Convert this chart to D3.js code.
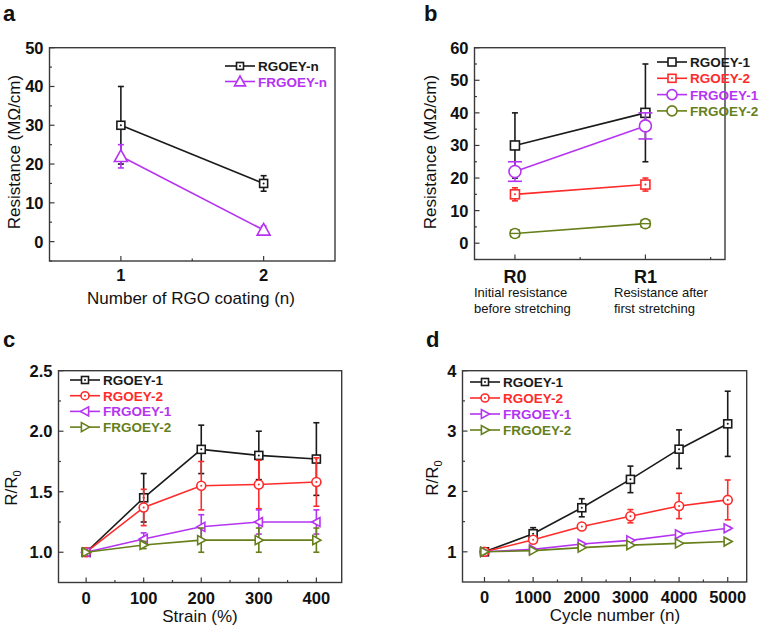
<!DOCTYPE html>
<html><head><meta charset="utf-8">
<script src="https://cdn.jsdelivr.net/npm/d3@7"></script>
<style>
body{margin:0;background:#fff;}
svg{display:block;font-family:Arial,"Liberation Sans",sans-serif;}
</style></head><body>
<svg id="chart" width="767" height="630"></svg>
<script>
// ---------- DATA ----------
// Panel a
const aX = [1, 2];
const aTicks = ["1", "2"];
const aRGOEYn = [30, 15];
const aRGOEYnErr = [10, 2];
const aFRGOEYn = [22, 3];
const aFRGOEYnErr = [3, 1];
// Panel b
const bX = [0, 1];
const bTicks = ["R0", "R1"];
const bSub0 = ["Initial resistance", "before stretching"];
const bSub1 = ["Resistance after", "first stretching"];
const bRGOEY1 = [30, 40];
const bRGOEY1Err = [10, 15];
const bRGOEY2 = [15, 18];
const bRGOEY2Err = [2, 2];
const bFRGOEY1 = [22, 36];
const bFRGOEY1Err = [3, 4];
const bFRGOEY2 = [3, 6];
const bFRGOEY2Err = [1, 1];
// Panel c
const cStrain = [0, 100, 200, 300, 400];
const cRGOEY1 = [1.0, 1.45, 1.85, 1.80, 1.77];
const cRGOEY1Err = [0, 0.20, 0.20, 0.20, 0.30];
const cRGOEY2 = [1.0, 1.37, 1.55, 1.56, 1.58];
const cRGOEY2Err = [0, 0.15, 0.20, 0.20, 0.20];
const cFRGOEY1 = [1.0, 1.11, 1.21, 1.25, 1.25];
const cFRGOEY1Err = [0, 0.05, 0.10, 0.10, 0.10];
const cFRGOEY2 = [1.0, 1.06, 1.10, 1.10, 1.10];
const cFRGOEY2Err = [0, 0.03, 0.10, 0.10, 0.10];
// Panel d
const dCycle = [0, 1000, 2000, 3000, 4000, 5000];
const dRGOEY1 = [1.0, 1.30, 1.73, 2.20, 2.70, 3.12];
const dRGOEY1Err = [0, 0.10, 0.15, 0.22, 0.32, 0.54];
const dRGOEY2 = [1.0, 1.20, 1.42, 1.59, 1.76, 1.86];
const dRGOEY2Err = [0, 0.02, 0.02, 0.11, 0.21, 0.33];
const dFRGOEY1 = [1.0, 1.04, 1.13, 1.19, 1.29, 1.39];
const dFRGOEY1Err = [0, 0.01, 0.02, 0.02, 0.02, 0.02];
const dFRGOEY2 = [1.0, 1.02, 1.07, 1.11, 1.14, 1.17];
const dFRGOEY2Err = [0, 0.01, 0.01, 0.01, 0.01, 0.01];

// ---------- STYLE ----------
const BLACK = "#1a1a1a", RED = "#ff2b2b", MAG = "#b534f2", OLIVE = "#667f1a";
const FRAME = "#3a3a3a";
const svg = d3.select("#chart");

function marker(g, shape, x, y, size, color, dot) {
  const h = size / 2;
  let el;
  if (shape === "square") {
    el = g.append("rect").attr("x", x - h).attr("y", y - h).attr("width", size).attr("height", size);
  } else if (shape === "circle") {
    el = g.append("circle").attr("cx", x).attr("cy", y).attr("r", h);
  } else if (shape === "triUp") {
    el = g.append("path").attr("d", `M${x},${y - h}L${x + h},${y + h * 0.8}L${x - h},${y + h * 0.8}Z`);
  } else if (shape === "triLeft") {
    el = g.append("path").attr("d", `M${x - h},${y}L${x + h * 0.8},${y - h}L${x + h * 0.8},${y + h}Z`);
  } else if (shape === "triRight") {
    el = g.append("path").attr("d", `M${x + h},${y}L${x - h * 0.8},${y - h}L${x - h * 0.8},${y + h}Z`);
  }
  el.attr("fill", "#fff").attr("stroke", color).attr("stroke-width", 1.6);
  if (dot) g.append("circle").attr("cx", x).attr("cy", y).attr("r", 1).attr("fill", color);
}

function panel(cfg) {
  const g = svg.append("g");
  const x = d3.scaleLinear().domain(cfg.xDomain).range([cfg.left, cfg.right]);
  const y = d3.scaleLinear().domain(cfg.yDomain).range([cfg.bottom, cfg.top]);
  // frame
  g.append("rect").attr("x", cfg.left).attr("y", cfg.top)
    .attr("width", cfg.right - cfg.left).attr("height", cfg.bottom - cfg.top)
    .attr("fill", "none").attr("stroke", FRAME).attr("stroke-width", 1.4);
  // y ticks (inward)
  cfg.yMinor.forEach(v => g.append("line").attr("x1", cfg.left).attr("x2", cfg.left + 2.5)
    .attr("y1", y(v)).attr("y2", y(v)).attr("stroke", FRAME).attr("stroke-width", 1.2));
  cfg.yTicks.forEach(v => {
    g.append("line").attr("x1", cfg.left).attr("x2", cfg.left + 5)
      .attr("y1", y(v)).attr("y2", y(v)).attr("stroke", FRAME).attr("stroke-width", 1.2);
    g.append("text").attr("x", cfg.left - 6).attr("y", y(v) + 6).attr("text-anchor", "end")
      .attr("font-size", 16.5).attr("font-weight", "bold").attr("fill", "#111").text(cfg.yFmt(v));
  });
  // x ticks
  cfg.xMinor.forEach(v => g.append("line").attr("y1", cfg.bottom).attr("y2", cfg.bottom - 2.5)
    .attr("x1", x(v)).attr("x2", x(v)).attr("stroke", FRAME).attr("stroke-width", 1.2));
  cfg.xTicks.forEach((v, i) => {
    g.append("line").attr("y1", cfg.bottom).attr("y2", cfg.bottom - 5)
      .attr("x1", x(v)).attr("x2", x(v)).attr("stroke", FRAME).attr("stroke-width", 1.2);
    g.append("text").attr("x", x(v)).attr("y", cfg.bottom + cfg.xLabelDy).attr("text-anchor", "middle")
      .attr("font-size", cfg.xLabelSize || 16.5).attr("font-weight", "bold").attr("fill", "#111")
      .text(cfg.xLabels[i]);
  });
  // axis titles
  if (cfg.xTitle) g.append("text").attr("x", cfg.xTitleX).attr("y", cfg.xTitleY)
    .attr("text-anchor", "middle").attr("font-size", 17).attr("fill", "#111").text(cfg.xTitle);
  const yt = g.append("text").attr("transform", `translate(${cfg.yTitleX},${cfg.yTitleY}) rotate(-90)`)
    .attr("text-anchor", "middle").attr("font-size", 17).attr("fill", "#111");
  if (cfg.yTitle === "R/R0") {
    yt.append("tspan").text("R/R");
    yt.append("tspan").attr("font-size", 11).attr("dy", 4).text("0");
  } else yt.text(cfg.yTitle);
  // panel letter
  g.append("text").attr("x", cfg.letterX).attr("y", cfg.letterY).attr("font-size", 22)
    .attr("font-weight", "bold").attr("fill", "#111").text(cfg.letter);
  // series
  cfg.series.forEach(s => {
    const pts = cfg.xValues.map((xv, i) => [x(xv), y(s.values[i]), s.err[i], s.values[i]]);
    g.append("path").attr("d", d3.line()(pts.map(p => [p[0], p[1]])))
      .attr("fill", "none").attr("stroke", s.color).attr("stroke-width", 1.6);
    pts.forEach(p => {
      if (p[2] > 0) {
        const y1 = y(p[3] - p[2]), y2 = y(p[3] + p[2]);
        const cw = s.cap / 2;
        g.append("line").attr("x1", p[0]).attr("x2", p[0]).attr("y1", y1).attr("y2", y2)
          .attr("stroke", s.color).attr("stroke-width", 1.6);
        [y1, y2].forEach(yy => g.append("line").attr("x1", p[0] - cw).attr("x2", p[0] + cw)
          .attr("y1", yy).attr("y2", yy).attr("stroke", s.color).attr("stroke-width", 1.6));
      }
      marker(g, s.shape, p[0], p[1], s.size, s.color, s.dot);
    });
  });
  // legend
  cfg.series.forEach((s, i) => {
    const ly = cfg.legY + i * cfg.legDy;
    g.append("line").attr("x1", cfg.legX).attr("x2", cfg.legX + 30).attr("y1", ly).attr("y2", ly)
      .attr("stroke", s.color).attr("stroke-width", 1.6);
    marker(g, s.shape, cfg.legX + 15, ly, s.legSize || s.size, s.color, s.dot);
    g.append("text").attr("x", cfg.legX + 33).attr("y", ly + 5).attr("font-size", 13.5)
      .attr("font-weight", "bold").attr("fill", s.color).text(s.name);
  });
}

// Panel a
panel({
  letter: "a", letterX: 3, letterY: 21,
  left: 49.5, right: 335, top: 47.7, bottom: 261,
  xDomain: [0.5, 2.5], yDomain: [-5, 50],
  xValues: aX, xTicks: aX, xLabels: aTicks, xMinor: [1.5], xLabelDy: 20,
  yTicks: d3.range(0, 51, 10), yMinor: [-5, 5, 15, 25, 35, 45], yFmt: d3.format("d"),
  xTitle: "Number of RGO coating (n)", xTitleX: 191, xTitleY: 304,
  yTitle: "Resistance (M\u03A9/cm)", yTitleX: 20, yTitleY: 152,
  legX: 225, legY: 66, legDy: 15.5,
  series: [
    {name: "RGOEY-n", values: aRGOEYn, err: aRGOEYnErr, color: BLACK, shape: "square", size: 8, dot: true, cap: 6, legSize: 7},
    {name: "FRGOEY-n", values: aFRGOEYn, err: aFRGOEYnErr, color: MAG, shape: "triUp", size: 13, dot: false, cap: 6, legSize: 11}
  ]
});

// Panel b
panel({
  letter: "b", letterX: 424, letterY: 21,
  left: 474.5, right: 725, top: 47.7, bottom: 259.5,
  xDomain: [-0.31, 1.61], yDomain: [-5, 60],
  xValues: bX, xTicks: bX, xLabels: bTicks, xMinor: [0.5, 1.5], xLabelDy: 23, xLabelSize: 18,
  yTicks: d3.range(0, 61, 10), yMinor: [-5, 5, 15, 25, 35, 45, 55], yFmt: d3.format("d"),
  xTitle: null,
  yTitle: "Resistance (M\u03A9/cm)", yTitleX: 436, yTitleY: 152,
  legX: 657, legY: 62, legDy: 16.3,
  series: [
    {name: "RGOEY-1", values: bRGOEY1, err: bRGOEY1Err, color: BLACK, shape: "square", size: 9, dot: false, cap: 6, legSize: 8},
    {name: "RGOEY-2", values: bRGOEY2, err: bRGOEY2Err, color: RED, shape: "square", size: 9, dot: true, cap: 6, legSize: 8},
    {name: "FRGOEY-1", values: bFRGOEY1, err: bFRGOEY1Err, color: MAG, shape: "circle", size: 12, dot: false, cap: 14, legSize: 10},
    {name: "FRGOEY-2", values: bFRGOEY2, err: bFRGOEY2Err, color: OLIVE, shape: "circle", size: 10, dot: false, cap: 10, legSize: 10}
  ]
});
// crosshair on FRGOEY-2 markers & sublabels
(function() {
  const x = d3.scaleLinear().domain([-0.31, 1.61]).range([474.5, 725]);
  const y = d3.scaleLinear().domain([-5, 60]).range([259.5, 47.7]);
  const g = svg.append("g");
  bX.forEach((xv, i) => {
    const cx = x(xv), cy = y(bFRGOEY2[i]);
    g.append("line").attr("x1", cx - 5).attr("x2", cx + 5).attr("y1", cy).attr("y2", cy).attr("stroke", OLIVE).attr("stroke-width", 1.4);
  });
  [[bSub0, 474], [bSub1, 614]].forEach(([lines, lx]) => {
    lines.forEach((t, j) => g.append("text").attr("x", lx).attr("y", 297 + j * 16)
      .attr("font-size", 13).attr("fill", "#111").text(t));
  });
})();

// Panel c
panel({
  letter: "c", letterX: 3, letterY: 347,
  left: 58.5, right: 341.7, top: 370.7, bottom: 582.5,
  xDomain: [-48, 444], yDomain: [0.75, 2.5],
  xValues: cStrain, xTicks: cStrain, xLabels: cStrain.map(String), xMinor: [50, 150, 250, 350], xLabelDy: 21,
  yTicks: [1.0, 1.5, 2.0, 2.5], yMinor: [1.25, 1.75, 2.25], yFmt: d3.format(".1f"),
  xTitle: "Strain (%)", xTitleX: 200, xTitleY: 622,
  yTitle: "R/R0", yTitleX: 17, yTitleY: 488,
  legX: 70, legY: 380, legDy: 15.7,
  series: [
    {name: "RGOEY-1", values: cRGOEY1, err: cRGOEY1Err, color: BLACK, shape: "square", size: 8, dot: true, cap: 6, legSize: 7},
    {name: "RGOEY-2", values: cRGOEY2, err: cRGOEY2Err, color: RED, shape: "circle", size: 9, dot: true, cap: 6, legSize: 8},
    {name: "FRGOEY-1", values: cFRGOEY1, err: cFRGOEY1Err, color: MAG, shape: "triLeft", size: 9, dot: false, cap: 6, legSize: 9},
    {name: "FRGOEY-2", values: cFRGOEY2, err: cFRGOEY2Err, color: OLIVE, shape: "triRight", size: 9, dot: false, cap: 6, legSize: 9}
  ]
});

// Panel d
panel({
  letter: "d", letterX: 426, letterY: 347,
  left: 462.5, right: 746.7, top: 370.7, bottom: 582,
  xDomain: [-452, 5390], yDomain: [0.5, 4],
  xValues: dCycle, xTicks: dCycle, xLabels: dCycle.map(String), xMinor: [500, 1500, 2500, 3500, 4500], xLabelDy: 21,
  yTicks: [1, 2, 3, 4], yMinor: [1.5, 2.5, 3.5], yFmt: d3.format("d"),
  xTitle: "Cycle number (n)", xTitleX: 615, xTitleY: 621,
  yTitle: "R/R0", yTitleX: 438, yTitleY: 478,
  legX: 470, legY: 382, legDy: 16,
  series: [
    {name: "RGOEY-1", values: dRGOEY1, err: dRGOEY1Err, color: BLACK, shape: "square", size: 8, dot: true, cap: 6, legSize: 7},
    {name: "RGOEY-2", values: dRGOEY2, err: dRGOEY2Err, color: RED, shape: "circle", size: 9, dot: true, cap: 6, legSize: 8},
    {name: "FRGOEY-1", values: dFRGOEY1, err: dFRGOEY1Err, color: MAG, shape: "triRight", size: 9, dot: false, cap: 6, legSize: 9},
    {name: "FRGOEY-2", values: dFRGOEY2, err: dFRGOEY2Err, color: OLIVE, shape: "triRight", size: 9, dot: false, cap: 6, legSize: 9}
  ]
});
</script></body></html>
